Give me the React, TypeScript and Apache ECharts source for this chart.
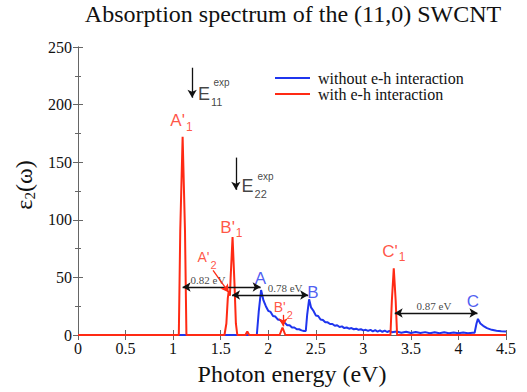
import React, { useEffect, useRef } from "react";
import * as echarts from "echarts";

// ---- data ----
const withEhX = [0, 1.06, 1.075, 1.1, 1.125, 1.14, 1.54, 1.56, 1.575, 1.585, 1.597, 1.605, 1.625, 1.645, 1.66, 1.675, 1.76, 1.78, 1.8, 2.12, 2.15, 2.18, 3.285, 3.3, 3.32, 3.34, 3.355, 4.5];
const withEhY = [0, 0, 90, 172, 90, 0, 0, 10, 32, 38, 34, 50, 85, 45, 10, 0, 0, 3, 0, 0, 6.5, 0, 0, 30, 58, 30, 0, 0];

const withoutEhX = [0, 1.88, 1.9, 1.925, 1.95, 1.975, 2.0, 2.025, 2.05, 2.075, 2.1, 2.125, 2.15, 2.175, 2.2, 2.225, 2.25, 2.275, 2.3, 2.325, 2.35, 2.375, 2.395, 2.41, 2.43, 2.45, 2.475, 2.5, 2.525, 2.55, 2.575, 2.6, 2.625, 2.65, 2.675, 2.7, 2.725, 2.75, 2.775, 2.8, 2.825, 2.85, 2.875, 2.9, 2.925, 2.95, 2.975, 3.0, 3.025, 3.05, 3.075, 3.1, 3.125, 3.15, 3.175, 3.2, 3.225, 3.25, 3.275, 3.3, 3.35, 3.4, 3.45, 3.5, 3.55, 3.6, 3.65, 3.7, 3.75, 3.8, 3.85, 3.9, 3.95, 4.0, 4.05, 4.1, 4.15, 4.17, 4.19, 4.205, 4.23, 4.26, 4.3, 4.35, 4.4, 4.45, 4.5];
const withoutEhY = [0, 0, 20, 39, 30, 25, 21, 20, 16.5, 16, 13.5, 13, 11, 10.5, 8.5, 8.5, 6.5, 6.5, 5, 5, 4, 3.5, 3.5, 18, 31, 24, 21, 17, 16.5, 13.5, 13, 11, 11, 9.5, 9.5, 8, 8.5, 7, 7.5, 6, 6.5, 5.5, 6, 5, 5.5, 4.5, 5, 4, 4.5, 3.5, 4.5, 3.2, 4.2, 3, 4, 2.8, 3.8, 2.6, 3.5, 2.4, 3, 2, 2.8, 1.8, 2.6, 1.8, 2.5, 1.6, 2.4, 1.6, 2.3, 1.5, 2.2, 1.5, 2.2, 1.5, 2, 2, 10, 14, 10, 8, 6, 4.5, 3.7, 3.2, 3];

const seriesNames = ["without e-h interaction", "with e-h interaction"];
const xTicks = { min: 0, max: 4.5, step: 0.5 };
const yTicks = { min: 0, max: 250, step: 50 };

// ---- annotations (data coordinates) ----
const peakLabels = [
  { t: "{rm|A'}{rs|1}", x: 1.088, y: 185.8 },
  { t: "{rm|B'}{rs|1}", x: 1.613, y: 93.7 },
  { t: "{rm2|A'}{rs2|2}", x: 1.356, y: 67.7 },
  { t: "{rm2|B'}{rs2|2}", x: 2.159, y: 24.6 },
  { t: "{rm|C'}{rs|1}", x: 3.321, y: 72.9 },
  { t: "{bm|A}", x: 1.919, y: 48.9 },
  { t: "{bm|B}", x: 2.47, y: 36.5 },
  { t: "{bm|C}", x: 4.153, y: 29.5 },
  { t: "{em|E}{es|11}", x: 1.39, y: 209.2 },
  { t: "{ex|exp}", x: 1.51, y: 219.5 },
  { t: "{em|E}{es|22}", x: 1.852, y: 129.3 },
  { t: "{ex|exp}", x: 1.972, y: 138 },
  { t: "{ev|0.82 eV}", x: 1.367, y: 47.7 },
  { t: "{ev|0.78 eV}", x: 2.177, y: 40.8 },
  { t: "{ev|0.87 eV}", x: 3.743, y: 25.2 },
];

// [x1, y1, x2, y2, startArrow, endArrow, color]
const arrows: [number, number, number, number, boolean, boolean, string][] = [
  [1.1, 41.7, 1.92, 41.7, true, true, "#111"],
  [1.62, 34.7, 2.42, 34.7, true, true, "#111"],
  [3.33, 19.1, 4.2, 19.1, true, true, "#111"],
  [1.2, 232, 1.2, 206, false, true, "#111"],
  [1.66, 154, 1.66, 126, false, true, "#111"],
  [1.42, 56, 1.585, 37, false, true, "#ff2a14"],
  [2.156, 17.5, 2.156, 7.5, false, true, "#ff2a14"],
];

const RED = "#ff2a14";
const BLUE = "#1f35ee";
const SANS = "Liberation Sans";
const SERIF = "Liberation Serif";

export default function App() {
  const ref = useRef<HTMLDivElement>(null);
  useEffect(() => {
    if (!ref.current) return;
    const chart = echarts.init(ref.current, undefined, { renderer: "svg" });
    const pairs = (xs: number[], ys: number[]) => xs.map((x, i) => [x, ys[i]]);
    const axisLine = { show: true, lineStyle: { color: "#666", width: 1 } };
    const serifLabel = { fontFamily: SERIF, fontStyle: "normal", fontWeight: "normal", fontSize: 16, color: "#111" };
    const xBase = {
      type: "value" as const,
      min: xTicks.min,
      max: xTicks.max,
      interval: xTicks.step,
      axisLine,
      splitLine: { show: false },
      axisTick: { show: true, inside: true, length: 5, lineStyle: { color: "#666" } },
    };
    const yBase = {
      type: "value" as const,
      min: yTicks.min,
      max: yTicks.max,
      interval: yTicks.step,
      axisLine,
      splitLine: { show: false },
      axisTick: { show: true, inside: true, length: 5, lineStyle: { color: "#666" } },
      minorTick: { show: true, splitNumber: 2, length: 3, lineStyle: { color: "#666" } },
    };
    chart.setOption({
      animation: false,
      textStyle: { fontFamily: SERIF },
      title: {
        text: "Absorption spectrum of the (11,0) SWCNT",
        left: 288,
        top: -3,
        textAlign: "center",
        textStyle: { fontFamily: SERIF, fontSize: 24, fontWeight: "normal", color: "#111" },
      },
      legend: {
        data: seriesNames,
        orient: "vertical",
        left: 275,
        top: 70,
        padding: 0,
        itemWidth: 35,
        itemHeight: 2,
        itemGap: 0,
        icon: "rect",
        textStyle: { ...serifLabel, fontSize: 16, lineHeight: 16, padding: [0, 0, 0, 3] },
      },
      grid: { left: 78, right: 21, top: 47, bottom: 57 },
      xAxis: [
        {
          ...xBase,
          position: "bottom",
          name: "Photon energy (eV)",
          nameLocation: "middle",
          nameGap: 27,
          nameTextStyle: { fontFamily: SERIF, fontSize: 24, color: "#111" },
          axisLabel: { ...serifLabel, margin: 5 },
        },
        { ...xBase, position: "top", axisLabel: { show: false } },
      ],
      yAxis: [
        {
          ...yBase,
          position: "left",
          name: "{a|ε}{b|2}{a|(ω)}",
          nameLocation: "middle",
          nameRotate: 90,
          nameGap: 40,
          nameTextStyle: {
            padding: [0, 0, 0, 12],
            rich: {
              a: { fontFamily: SERIF, fontSize: 24, color: "#111" },
              b: { fontFamily: SERIF, fontSize: 15, color: "#111", padding: [12, 0, 0, 0] },
            },
          },
          axisLabel: { ...serifLabel, margin: 6 },
        },
        { ...yBase, position: "right", axisLabel: { show: false } },
      ],
      series: [
        {
          name: seriesNames[0],
          type: "line",
          data: pairs(withoutEhX, withoutEhY),
          showSymbol: false,
          symbol: "none",
          color: BLUE,
          lineStyle: { color: BLUE, width: 2 },
          silent: true,
        },
        {
          name: seriesNames[1],
          type: "line",
          data: pairs(withEhX, withEhY),
          showSymbol: false,
          symbol: "none",
          color: RED,
          lineStyle: { color: RED, width: 2 },
          silent: true,
        },
        {
          name: "annotations",
          type: "scatter",
          silent: true,
          symbol: "circle",
          symbolSize: 1,
          itemStyle: { color: "rgba(0,0,0,0)" },
          data: peakLabels.map((p) => ({ value: [p.x, p.y], t: p.t })),
          label: {
            show: true,
            position: "inside",
            formatter: (p: any) => p.data.t,
            rich: {
              rm: { fontFamily: SANS, fontSize: 17, color: RED },
              rs: { fontFamily: SANS, fontSize: 12, color: RED, padding: [12, 0, 0, 1] },
              rm2: { fontFamily: SANS, fontSize: 14, color: RED },
              rs2: { fontFamily: SANS, fontSize: 11, color: RED, padding: [16, 0, 0, 1] },
              bm: { fontFamily: SANS, fontSize: 17, color: BLUE },
              em: { fontFamily: SANS, fontSize: 18, color: "#111" },
              es: { fontFamily: SANS, fontSize: 11, color: "#111", padding: [16, 0, 0, 1] },
              ex: { fontFamily: SANS, fontSize: 10, color: "#111" },
              ev: { fontFamily: SERIF, fontSize: 11, color: "#111" },
            },
          },
          markLine: {
            silent: true,
            symbolSize: [7, 8],
            label: { show: false },
            data: arrows.map((a) => [
              {
                coord: [a[0], a[1]],
                symbol: a[4] ? "arrow" : "none",
                lineStyle: { color: a[6], width: 1.3, type: "solid" },
              },
              { coord: [a[2], a[3]], symbol: a[5] ? "arrow" : "none" },
            ]),
          },
        },
      ],
    });
    return () => chart.dispose();
  }, []);
  return (
    <div
      ref={ref}
      style={{ position: "fixed", left: 0, top: 0, width: 527, height: 392, background: "#fff" }}
    />
  );
}
